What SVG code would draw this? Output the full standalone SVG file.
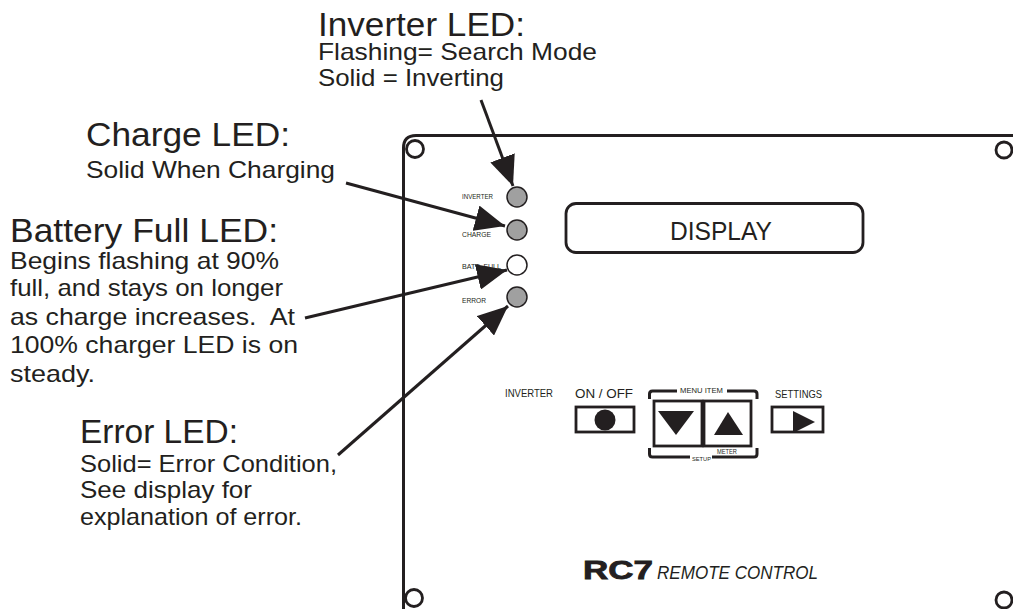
<svg xmlns="http://www.w3.org/2000/svg" width="1013" height="609" viewBox="0 0 1013 609">
<style>
.t{font-family:"Liberation Sans",Arial,sans-serif;fill:#231f20;white-space:pre}
.h{font-size:33px}
.b{font-size:24px}
.s{font-size:7px}
.ln{stroke:#231f20;stroke-width:3;fill:none}
.led{stroke:#231f20;stroke-width:1.5}
.box{stroke:#231f20;stroke-width:2.8;fill:#fff}
.hole{fill:none;stroke:#231f20;stroke-width:2.8}
</style>
<defs>
<marker id="ah" markerUnits="userSpaceOnUse" markerWidth="32" markerHeight="26" refX="30" refY="13" orient="auto">
<path d="M0,0 L30,13 L0,26 Z" fill="#231f20"/>
</marker>
</defs>
<rect width="1013" height="609" fill="#fff"/>

<g id="panel">
<path class="ln" d="M403.5,609 L403.5,148 Q403.5,135.5 416,135.5 L1013,135.5"/>
<circle class="hole" cx="415" cy="149" r="8.5"/>
<circle class="hole" cx="1004" cy="150" r="8"/>
<circle class="hole" cx="414" cy="598" r="8.5"/>
<circle class="hole" cx="1004" cy="600" r="8"/>
</g>

<g id="led-inverter">
<circle class="led" cx="517" cy="197" r="10" fill="#a0a0a0"/>
<text class="t s" x="462" y="199" textLength="31" lengthAdjust="spacingAndGlyphs">INVERTER</text>
</g>
<g id="led-charge">
<circle class="led" cx="517" cy="230" r="10" fill="#a0a0a0"/>
<text class="t s" x="462" y="237" textLength="29" lengthAdjust="spacingAndGlyphs">CHARGE</text>
</g>
<g id="led-battfull">
<circle class="led" cx="517" cy="265" r="10" fill="#fff"/>
<text class="t s" x="462" y="269" textLength="39" lengthAdjust="spacingAndGlyphs">BATT  FULL</text>
</g>
<g id="led-error">
<circle class="led" cx="517" cy="297" r="10" fill="#a0a0a0"/>
<text class="t s" x="462" y="303" textLength="24" lengthAdjust="spacingAndGlyphs">ERROR</text>
</g>

<g id="display">
<rect class="box" x="566" y="203.5" width="297" height="49" rx="10"/>
<text class="t" x="670" y="240" font-size="26" textLength="102" lengthAdjust="spacingAndGlyphs">DISPLAY</text>
</g>

<g id="btn-onoff">
<text class="t" x="505" y="397" font-size="10.5" textLength="48" lengthAdjust="spacingAndGlyphs">INVERTER</text>
<text class="t" x="575" y="398" font-size="13.5" textLength="58" lengthAdjust="spacingAndGlyphs">ON / OFF</text>
<rect class="box" x="576" y="407" width="58" height="25"/>
<circle cx="605" cy="420" r="10.5" fill="#231f20"/>
</g>

<g id="btn-menu">
<path class="ln" stroke-width="2.5" d="M649.5,399 L649.5,394 Q649.5,391 652.5,391 L677,391 M727,391 L754,391 Q757,391 757,394 L757,399"/>
<path class="ln" stroke-width="2.5" d="M649.5,448 L649.5,454 Q649.5,457 652.5,457 L690,457 M712,457 L754,457 Q757,457 757,454 L757,448"/>
<text class="t" x="680" y="393" font-size="6.5" textLength="43" lengthAdjust="spacingAndGlyphs">MENU ITEM</text>
<text class="t" x="692" y="461" font-size="6" textLength="19" lengthAdjust="spacingAndGlyphs">SETUP</text>
<text class="t" x="717" y="454" font-size="6.5" textLength="20" lengthAdjust="spacingAndGlyphs">METER</text>
<rect class="box" x="654" y="401" width="48" height="45"/>
<path d="M658,411 L694,411 L676,435 Z" fill="#231f20"/>
<rect class="box" x="704" y="401" width="47" height="45"/>
<path d="M714,435 L743,435 L728,412 Z" fill="#231f20"/>
</g>

<g id="btn-settings">
<text class="t" x="775" y="398" font-size="11.5" textLength="47" lengthAdjust="spacingAndGlyphs">SETTINGS</text>
<rect class="box" x="772" y="407" width="51" height="25"/>
<path d="M793,411 L815,422 L793,433 Z" fill="#231f20"/>
</g>

<g id="brand">
<text class="t" x="583" y="579" font-size="25" font-weight="bold" textLength="70" lengthAdjust="spacingAndGlyphs" style="stroke:#231f20;stroke-width:0.8">RC7</text>
<text class="t" x="657" y="579" font-size="19" font-style="italic" textLength="161" lengthAdjust="spacingAndGlyphs">REMOTE CONTROL</text>
</g>

<g id="note-inverter">
<text class="t h" x="318" y="36" textLength="207" lengthAdjust="spacingAndGlyphs">Inverter LED:</text>
<text class="t b" x="318" y="60" textLength="279" lengthAdjust="spacingAndGlyphs">Flashing= Search Mode</text>
<text class="t b" x="318" y="86" textLength="186" lengthAdjust="spacingAndGlyphs">Solid = Inverting</text>
</g>
<g id="note-charge">
<text class="t h" x="86" y="146" textLength="204" lengthAdjust="spacingAndGlyphs">Charge LED:</text>
<text class="t b" x="86" y="178" textLength="249" lengthAdjust="spacingAndGlyphs">Solid When Charging</text>
</g>
<g id="note-battery">
<text class="t h" x="10" y="242" textLength="268" lengthAdjust="spacingAndGlyphs">Battery Full LED:</text>
<text class="t b" x="10" y="269" textLength="269" lengthAdjust="spacingAndGlyphs">Begins flashing at 90%</text>
<text class="t b" x="10" y="296" textLength="273" lengthAdjust="spacingAndGlyphs">full, and stays on longer</text>
<text class="t b" x="10" y="325" textLength="285" lengthAdjust="spacingAndGlyphs">as charge increases.  At</text>
<text class="t b" x="10" y="353" textLength="288" lengthAdjust="spacingAndGlyphs">100% charger LED is on</text>
<text class="t b" x="10" y="382" textLength="85" lengthAdjust="spacingAndGlyphs">steady.</text>
</g>
<g id="note-error">
<text class="t h" x="80" y="443" textLength="158" lengthAdjust="spacingAndGlyphs">Error LED:</text>
<text class="t b" x="80" y="472" textLength="257" lengthAdjust="spacingAndGlyphs">Solid= Error Condition,</text>
<text class="t b" x="80" y="498" textLength="172" lengthAdjust="spacingAndGlyphs">See display for</text>
<text class="t b" x="80" y="525" textLength="222" lengthAdjust="spacingAndGlyphs">explanation of error.</text>
</g>

<g id="connectors">
<line class="ln" x1="481" y1="100" x2="513" y2="186" marker-end="url(#ah)"/>
<line class="ln" x1="346" y1="183" x2="505" y2="226" marker-end="url(#ah)"/>
<line class="ln" x1="305" y1="318" x2="507" y2="270" marker-end="url(#ah)"/>
<line class="ln" x1="338" y1="455" x2="508" y2="306" marker-end="url(#ah)"/>
</g>
</svg>
